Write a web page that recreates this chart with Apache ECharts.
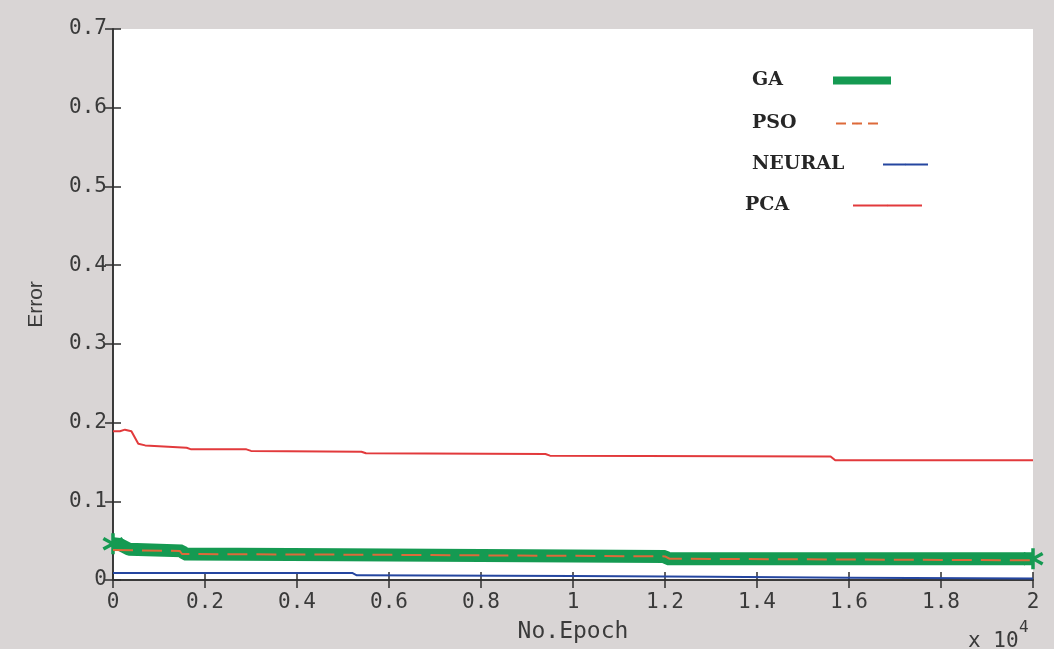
<!DOCTYPE html>
<html>
<head>
<meta charset="utf-8">
<script src="https://cdn.jsdelivr.net/npm/echarts@6/dist/echarts.min.js"></script>
<style>
  html, body { margin: 0; padding: 0; background: #d9d5d5; }
  #chart { width: 1054px; height: 649px; }
</style>
</head>
<body>
<div id="chart"></div>
<script>
// Training error per epoch for four methods
const gaEpoch = [0, 150, 350, 1500, 1550, 5000, 12000, 12050, 20000];
const gaError = [0.046, 0.045, 0.039, 0.037, 0.033, 0.032, 0.030, 0.027, 0.027];

const psoEpoch = [0, 1450, 1500, 6000, 12000, 12100, 20000];
const psoError = [0.038, 0.037, 0.033, 0.032, 0.030, 0.027, 0.025];

const neuralEpoch = [0, 5200, 5300, 10000, 13000, 16000, 20000];
const neuralError = [0.009, 0.009, 0.006, 0.005, 0.004, 0.003, 0.002];

const pcaEpoch = [0, 150, 260, 400, 550, 700, 1000, 1600, 1700, 2900, 3000, 5400, 5500, 9400, 9500, 15600, 15700, 20000];
const pcaError = [0.189, 0.189, 0.191, 0.189, 0.173, 0.171, 0.170, 0.168, 0.166, 0.166, 0.164, 0.163, 0.161, 0.160, 0.158, 0.157, 0.152, 0.152];

const seriesNames = ['GA', 'PSO', 'NEURAL', 'PCA'];
const xTickLabels = ['0', '0.2', '0.4', '0.6', '0.8', '1', '1.2', '1.4', '1.6', '1.8', '2'];
const yTickLabels = ['0', '0.1', '0.2', '0.3', '0.4', '0.5', '0.6', '0.7'];

const colors = { GA: '#159a52', PSO: '#dd6a3a', NEURAL: '#2546a0', PCA: '#e23a3c' };
const axisColor = '#2f2f2f';
const labelColor = '#3a3a3a';
const monoFont = '"DejaVu Sans Mono", "Liberation Mono", monospace';
const serifFont = '"DejaVu Serif", "Liberation Serif", serif';

// asterisk marker drawn at the ends of the GA curve
const asterisk = 'path://M8.5,0h3v7l6-3.5l1.5,2.6l-6,3.5l6,3.5l-1.5,2.6l-6-3.5v7h-3v-7l-6,3.5l-1.5-2.6l6-3.5l-6-3.5l1.5-2.6l6,3.5z';

function pairs(xs, ys) { return xs.map((x, i) => [x, ys[i]]); }

const gaData = pairs(gaEpoch, gaError).map((p, i, arr) =>
  (i === 0 || i === arr.length - 1)
    ? { value: p, symbol: asterisk, symbolSize: 21 }
    : { value: p });

function legendItem(name, left, cy, w, h, textW, lineStyle) {
  return {
    data: [name], left: left, top: cy - 11, padding: 0, align: 'right',
    itemWidth: w, itemHeight: h, itemGap: 0, selectedMode: false,
    lineStyle: lineStyle,
    formatter: '{t|{name}}',
    textStyle: {
      rich: {
        t: { width: textW, align: 'left', fontFamily: serifFont, fontSize: 19,
             fontWeight: 'bold', color: '#262626', lineHeight: 22 }
      }
    }
  };
}

const chart = echarts.init(document.getElementById('chart'), null, { renderer: 'canvas' });

const baseX = { type: 'value', min: 0, max: 20000, interval: 2000 };
const baseY = { type: 'value', min: 0, max: 0.7, interval: 0.1 };

chart.setOption({
  backgroundColor: '#d9d5d5',
  animation: false,
  grid: { left: 113, right: 21, top: 29, bottom: 68, show: true, backgroundColor: '#ffffff', borderWidth: 0 },
  legend: [
    legendItem('GA', 752, 82, 58, 8, 76, { width: 8 }),
    legendItem('PSO', 752, 125, 42, 2, 79, { width: 2, type: [10, 6] }),
    legendItem('NEURAL', 752, 166, 45, 2, 126, { width: 2 }),
    legendItem('PCA', 745, 207, 69, 2, 103, { width: 2 })
  ],
  xAxis: [
    Object.assign({}, baseX, {
      position: 'bottom',
      name: 'No.Epoch', nameLocation: 'middle', nameGap: 41,
      nameTextStyle: { fontFamily: monoFont, fontSize: 23, color: labelColor },
      axisLine: { show: true, lineStyle: { color: axisColor, width: 1.5 } },
      axisTick: { show: true, inside: true, length: 8, lineStyle: { color: axisColor, width: 1.5 } },
      axisLabel: {
        margin: 12, fontFamily: monoFont, fontSize: 21, color: labelColor,
        formatter: (v) => xTickLabels[Math.round(v / 2000)]
      },
      splitLine: { show: false }
    }),
    Object.assign({}, baseX, {
      position: 'top',
      axisLine: { show: true, lineStyle: { color: axisColor, width: 1.5 } },
      axisTick: { show: true, inside: true, length: 8, lineStyle: { color: axisColor, width: 1.5 } },
      axisLabel: { show: false },
      splitLine: { show: false }
    })
  ],
  yAxis: [
    Object.assign({}, baseY, {
      position: 'left',
      name: 'Error', nameLocation: 'middle', nameGap: 66, nameRotate: 90,
      nameTextStyle: { fontFamily: '"Liberation Sans", "DejaVu Sans", sans-serif', fontSize: 21, color: labelColor },
      axisLine: { show: true, lineStyle: { color: axisColor, width: 1.5 } },
      axisTick: { show: true, inside: true, length: 8, lineStyle: { color: axisColor, width: 1.5 } },
      axisLabel: {
        margin: 6, fontFamily: monoFont, fontSize: 21, color: labelColor,
        formatter: (v) => yTickLabels[Math.round(v * 10)]
      },
      splitLine: { show: false }
    }),
    Object.assign({}, baseY, {
      position: 'right',
      axisLine: { show: true, lineStyle: { color: axisColor, width: 1.5 } },
      axisTick: { show: true, inside: true, length: 8, lineStyle: { color: axisColor, width: 1.5 } },
      axisLabel: { show: false },
      splitLine: { show: false }
    })
  ],
  series: [
    {
      name: 'GA', type: 'line', data: gaData, symbol: 'none',
      itemStyle: { color: colors.GA },
      lineStyle: { color: colors.GA, width: 13 }, z: 2
    },
    {
      name: 'PSO', type: 'line', data: pairs(psoEpoch, psoError), symbol: 'none',
      itemStyle: { color: colors.PSO },
      lineStyle: { color: colors.PSO, width: 2, type: [20, 9] }, z: 3
    },
    {
      name: 'NEURAL', type: 'line', data: pairs(neuralEpoch, neuralError), symbol: 'none',
      itemStyle: { color: colors.NEURAL },
      lineStyle: { color: colors.NEURAL, width: 2 }, z: 3
    },
    {
      name: 'PCA', type: 'line', data: pairs(pcaEpoch, pcaError), symbol: 'none',
      itemStyle: { color: colors.PCA },
      lineStyle: { color: colors.PCA, width: 2 }, z: 3
    }
  ],
  graphic: [
    { type: 'text', left: 968, top: 631, style: { text: 'x 10', font: '21px ' + monoFont, fill: labelColor } },
    { type: 'text', left: 1019, top: 620, style: { text: '4', font: '16px ' + monoFont, fill: labelColor } }
  ]
});
</script>
</body>
</html>
